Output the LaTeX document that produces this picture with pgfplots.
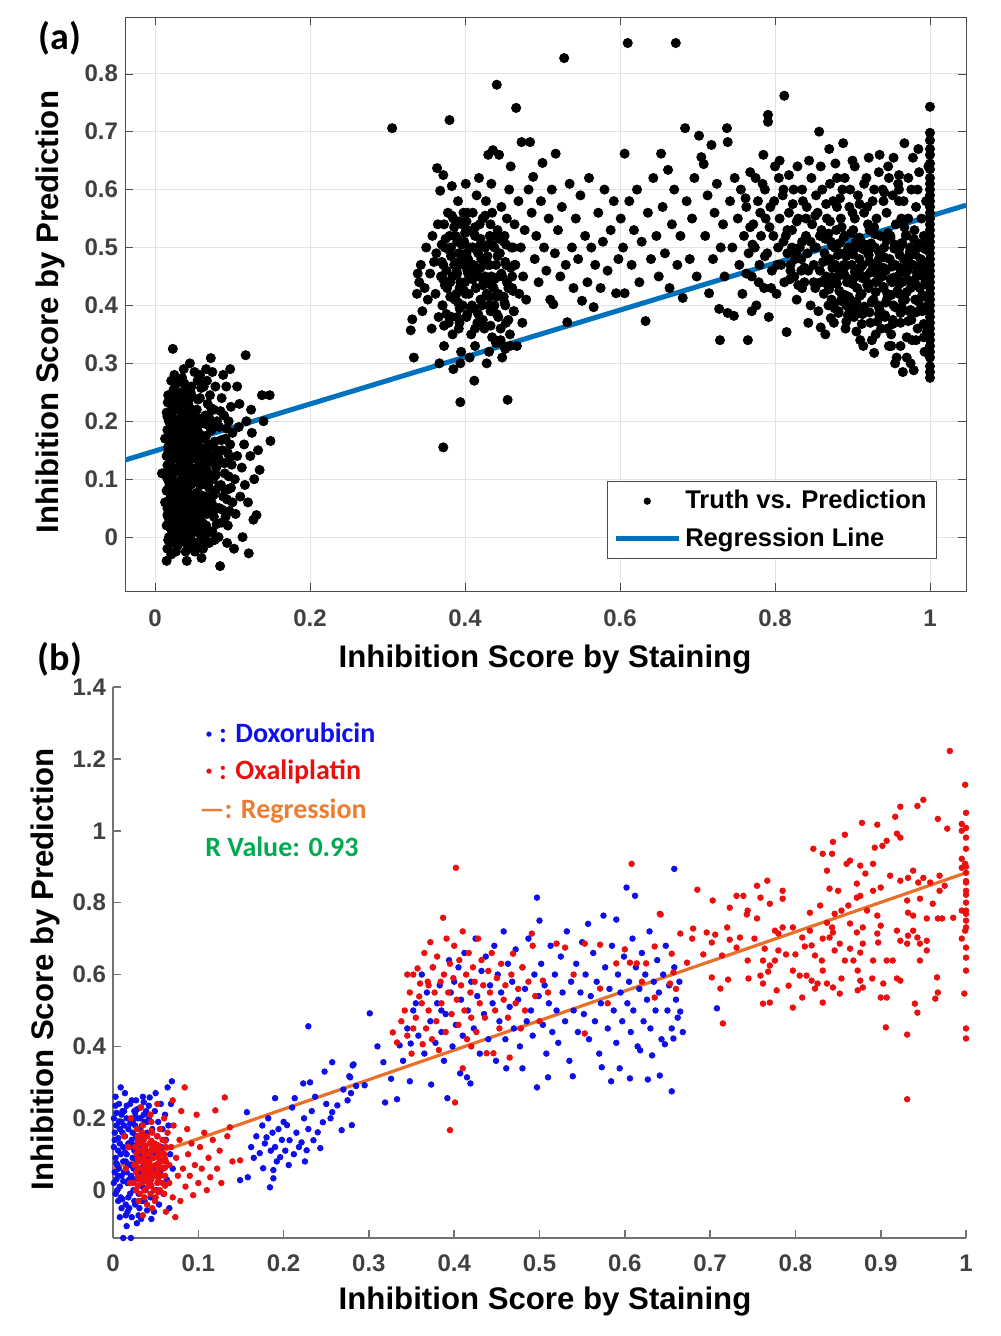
\documentclass[border=0pt]{standalone}
\usepackage{pgfplots}
\pgfplotsset{compat=1.18}
\usepackage{fontspec}
\setmainfont{Liberation Sans}
\newfontfamily\calibri{Carlito}
\definecolor{mblue}{RGB}{0,114,189}
\definecolor{dblue}{RGB}{15,15,235}
\definecolor{dred}{RGB}{235,15,15}
\definecolor{regorange}{RGB}{232,112,40}
\definecolor{txtorange}{RGB}{237,125,49}
\definecolor{rgreen}{RGB}{0,170,80}
\definecolor{tickgray}{RGB}{64,64,64}
\pgfplotsset{
  dotlegend/.style={legend image code/.code={\draw[mark repeat=2,mark phase=2,##1,mark size=1.6pt] plot coordinates {(0pt,0pt) (15.75pt,0pt) (31.5pt,0pt)};}},
  linelegend/.style={legend image code/.code={\draw[##1] (0pt,0pt) -- (31.5pt,0pt);}},
}
\begin{document}
\begin{tikzpicture}
\useasboundingbox (0,0) rectangle (500pt,668pt);
% ---------------- panel (a) ----------------
\begin{axis}[
  at={(62.5pt,372.5pt)}, anchor=south west, scale only axis,
  width=420.5pt, height=287pt,
  xmin=-0.0387, xmax=1.0465, ymin=-0.093, ymax=0.898,
  xtick={0,0.2,0.4,0.6,0.8,1}, ytick={0,0.1,0.2,0.3,0.4,0.5,0.6,0.7,0.8},
  tick align=inside, tick pos=both, xticklabel pos=lower, yticklabel pos=left,
  major tick length=4pt,
  grid=major, grid style={gray!22},
  axis line style={black!70}, tick style={black!70},
  /pgf/number format/assume math mode=true,
  tick label style={font=\fontsize{12}{14}\selectfont\bfseries, text=tickgray},
  xticklabel style={yshift=-6pt},
  legend style={at={(0.9655,0.1916)}, anchor=north east, draw=black!70, fill=white,
    font=\fontsize{12.8}{15}\selectfont\bfseries, inner xsep=3pt, inner ysep=2.5pt,
    row sep=4pt, nodes={inner ysep=2pt}},
  legend cell align=left,
]
\addplot[only marks, mark=*, mark size=2.3pt, color=black, dotlegend]
coordinates {
(0.015,-0.041)(0.016,-0.02)(0.018,0.0)(0.015,0.02)(0.017,0.035)(0.016,0.05)(0.019,0.065)(0.015,0.08)(0.018,0.095)(0.016,0.11)(0.02,0.125)(0.015,0.14)(0.017,0.155)(0.019,0.17)(0.016,0.185)(0.018,0.2)(0.015,0.215)(0.021,0.23)(0.017,0.245)(0.023,0.325)(0.022,0.01)(0.024,0.045)(0.023,0.075)(0.022,0.105)(0.024,0.135)(0.023,0.165)(0.022,0.195)(0.025,0.225)(0.024,0.255)(0.021,0.27)(0.012,0.11)(0.013,0.06)(0.013,0.17)(0.024,-0.01)(0.021,-0.03)(0.025,0.28)(0.02,0.05)(0.02,0.15)(0.021,0.09)(0.019,0.21)(0.009,0.11)
(0.027,-0.025)(0.029,0.0)(0.031,0.02)(0.028,0.04)(0.033,0.055)(0.03,0.07)(0.027,0.085)(0.034,0.1)(0.029,0.115)(0.032,0.13)(0.028,0.145)(0.035,0.16)(0.03,0.175)(0.027,0.19)(0.033,0.205)(0.029,0.22)(0.031,0.235)(0.034,0.25)(0.028,0.265)(0.036,0.01)(0.038,0.03)(0.037,0.06)(0.039,0.08)(0.036,0.11)(0.038,0.125)(0.037,0.15)(0.04,0.17)(0.036,0.19)(0.039,0.21)(0.038,0.24)(0.035,0.275)(0.032,-0.005)(0.04,-0.01)(0.026,0.005)(0.03,0.095)(0.034,0.185)(0.026,0.155)(0.031,0.06)(0.036,0.045)(0.04,0.135)(0.04,0.1)(0.033,0.23)(0.038,0.265)(0.027,0.2)(0.037,0.29)
(0.041,-0.041)(0.043,-0.02)(0.045,0.0)(0.042,0.02)(0.048,0.035)(0.044,0.05)(0.047,0.065)(0.042,0.08)(0.05,0.095)(0.045,0.11)(0.043,0.125)(0.049,0.14)(0.046,0.155)(0.042,0.17)(0.05,0.185)(0.044,0.2)(0.048,0.215)(0.043,0.23)(0.046,0.25)(0.045,0.3)(0.052,-0.01)(0.055,0.015)(0.053,0.04)(0.057,0.06)(0.054,0.075)(0.058,0.09)(0.052,0.105)(0.056,0.12)(0.053,0.135)(0.059,0.15)(0.055,0.165)(0.052,0.18)(0.057,0.2)(0.054,0.22)(0.058,0.24)(0.055,0.27)(0.051,0.285)(0.06,-0.036)(0.06,0.01)(0.06,0.11)(0.047,0.26)(0.051,0.055)(0.056,0.205)(0.049,0.16)(0.058,0.28)
(0.062,-0.02)(0.064,0.0)(0.066,0.02)(0.063,0.04)(0.068,0.055)(0.065,0.07)(0.07,0.085)(0.063,0.1)(0.067,0.115)(0.072,0.13)(0.064,0.145)(0.069,0.16)(0.066,0.175)(0.071,0.19)(0.065,0.21)(0.068,0.23)(0.072,0.309)(0.063,0.26)(0.074,0.01)(0.076,0.035)(0.073,0.06)(0.078,0.08)(0.075,0.1)(0.079,0.12)(0.074,0.14)(0.077,0.165)(0.073,0.185)(0.08,0.2)(0.076,0.22)(0.071,0.245)(0.078,0.26)(0.074,0.285)(0.067,0.27)(0.07,-0.01)(0.08,0.05)(0.08,0.15)(0.061,0.125)(0.069,0.095)(0.077,-0.005)(0.066,0.29)
(0.084,-0.05)(0.082,0.0)(0.086,0.025)(0.083,0.05)(0.088,0.07)(0.085,0.09)(0.09,0.11)(0.084,0.13)(0.087,0.15)(0.091,0.17)(0.083,0.19)(0.089,0.21)(0.086,0.24)(0.092,0.26)(0.094,0.02)(0.096,0.045)(0.093,0.065)(0.098,0.085)(0.095,0.105)(0.099,0.125)(0.094,0.145)(0.097,0.16)(0.1,0.18)(0.095,0.2)(0.098,0.225)(0.093,-0.01)(0.1,0.06)(0.088,0.28)(0.097,0.29)(0.091,0.035)
(0.103,0.1)(0.106,0.14)(0.104,0.04)(0.108,0.19)(0.11,0.07)(0.112,0.12)(0.109,0.23)(0.115,0.16)(0.117,0.314)(0.113,0.0)(0.116,0.09)(0.118,0.2)(0.121,-0.028)(0.12,0.06)(0.123,0.14)(0.125,0.18)(0.127,0.03)(0.128,0.1)(0.131,0.038)(0.133,0.15)(0.135,0.116)(0.138,0.245)(0.148,0.245)(0.149,0.166)(0.14,0.2)(0.106,0.26)(0.102,-0.02)(0.124,0.22)
(0.0185,0.0275)(0.0195,0.0875)(0.0175,0.1475)(0.0215,0.2075)(0.0225,0.0575)(0.0265,0.1175)(0.0255,0.1775)(0.0285,0.0125)(0.0315,0.0825)(0.0305,0.1425)(0.0325,0.2025)(0.0335,0.0425)(0.0355,0.1225)(0.0365,0.1675)(0.0375,0.0175)(0.0395,0.0925)(0.0385,0.1925)(0.0415,0.0525)(0.0425,0.1125)(0.0435,0.1825)(0.0445,-0.0075)(0.0465,0.0725)(0.0475,0.1375)(0.0455,0.2175)(0.0495,0.0175)(0.0505,0.1175)(0.0515,0.1975)(0.0535,0.0625)(0.0545,0.1475)(0.0565,0.0325)(0.0575,0.1075)(0.0555,0.2375)(0.0595,0.0725)(0.0605,0.1725)(0.0625,0.0225)(0.0635,0.1175)(0.0645,0.1975)(0.0655,0.0475)(0.0675,0.1375)(0.0685,0.0075)(0.0695,0.2075)(0.0705,0.1075)(0.0725,0.0425)(0.0735,0.1575)(0.0755,0.0725)(0.0765,0.1975)(0.0785,0.1075)(0.0795,0.0225)(0.0815,0.1375)(0.0825,0.0875)(0.0855,0.1675)(0.0865,0.0475)(0.0895,0.1275)(0.0905,0.0825)(0.0925,0.1875)(0.0945,0.0825)(0.0965,0.1375)(0.0155,0.1025)(0.0165,0.2325)(0.0275,0.2375)(0.0345,0.2175)(0.0195,0.0)(0.0285,-0.0125)(0.0395,-0.025)(0.0515,-0.025)(0.0635,-0.005)(0.0725,0.2225)(0.0845,0.2175)(0.0595,0.2575)(0.0405,0.2575)
(0.017,-0.005)(0.019,0.017)(0.016,0.038)(0.018,0.061)(0.017,0.083)(0.019,0.102)(0.016,0.124)(0.018,0.146)(0.017,0.168)(0.019,0.187)(0.016,0.208)
(0.023,0.006)(0.025,0.027)(0.022,0.049)(0.024,0.07)(0.023,0.092)(0.025,0.113)(0.022,0.135)(0.024,0.157)(0.023,0.178)(0.025,0.2)(0.022,0.221)(0.024,0.243)
(0.029,-0.015)(0.031,0.008)(0.028,0.03)(0.03,0.051)(0.029,0.072)(0.031,0.094)(0.028,0.116)(0.03,0.138)(0.029,0.159)(0.031,0.181)(0.028,0.203)(0.03,0.225)
(0.035,0.002)(0.037,0.024)(0.034,0.045)(0.036,0.067)(0.035,0.088)(0.037,0.11)(0.034,0.131)(0.036,0.153)(0.035,0.175)(0.037,0.196)(0.034,0.218)(0.036,0.24)
(0.041,-0.008)(0.043,0.014)(0.04,0.036)(0.042,0.057)(0.041,0.079)(0.043,0.1)(0.04,0.122)(0.042,0.144)(0.041,0.165)(0.043,0.187)(0.04,0.209)(0.042,0.23)
(0.047,0.005)(0.049,0.026)(0.046,0.048)(0.048,0.069)(0.047,0.091)(0.049,0.113)(0.046,0.134)(0.048,0.156)(0.047,0.177)(0.049,0.199)(0.046,0.221)(0.048,0.242)
(0.053,-0.012)(0.055,0.011)(0.052,0.032)(0.054,0.054)(0.053,0.076)(0.055,0.097)(0.052,0.119)(0.054,0.141)(0.053,0.162)(0.055,0.184)(0.052,0.206)
(0.059,0.003)(0.061,0.025)(0.058,0.046)(0.06,0.068)(0.059,0.09)(0.061,0.111)(0.058,0.133)(0.06,0.154)(0.059,0.176)(0.061,0.197)
(0.065,0.012)(0.067,0.04)(0.064,0.066)(0.066,0.09)(0.065,0.118)(0.067,0.145)(0.064,0.17)(0.066,0.195)
(0.332,0.376)(0.33,0.357)(0.334,0.31)(0.338,0.42)(0.341,0.44)(0.345,0.39)(0.343,0.47)(0.348,0.43)(0.35,0.5)(0.352,0.41)(0.355,0.455)(0.357,0.36)(0.358,0.52)(0.36,0.475)(0.339,0.455)
(0.362,0.42)(0.364,0.637)(0.368,0.598)(0.372,0.625)(0.363,0.49)(0.366,0.38)(0.369,0.45)(0.365,0.54)(0.371,0.4)(0.374,0.5)(0.373,0.33)(0.376,0.46)(0.378,0.56)(0.372,0.155)(0.377,0.43)(0.379,0.37)(0.375,0.515)(0.38,0.72)(0.367,0.3)(0.37,0.475)
(0.381,0.44)(0.383,0.606)(0.382,0.5)(0.384,0.35)(0.386,0.47)(0.385,0.55)(0.387,0.41)(0.388,0.52)(0.39,0.38)(0.389,0.46)(0.391,0.58)(0.393,0.43)(0.392,0.49)(0.394,0.233)(0.395,0.32)(0.396,0.54)(0.397,0.4)(0.398,0.47)(0.399,0.51)(0.385,0.29)(0.392,0.36)(0.4,0.44)(0.398,0.56)(0.389,0.42)(0.394,0.3)
(0.401,0.61)(0.402,0.38)(0.404,0.48)(0.403,0.53)(0.405,0.42)(0.407,0.45)(0.406,0.5)(0.408,0.35)(0.41,0.56)(0.409,0.4)(0.411,0.47)(0.413,0.52)(0.412,0.27)(0.414,0.43)(0.415,0.59)(0.416,0.37)(0.417,0.49)(0.418,0.45)(0.419,0.54)(0.42,0.41)(0.406,0.31)(0.413,0.33)(0.418,0.62)(0.403,0.46)(0.41,0.5)
(0.421,0.48)(0.422,0.4)(0.423,0.55)(0.424,0.44)(0.426,0.5)(0.425,0.36)(0.427,0.58)(0.428,0.42)(0.43,0.66)(0.429,0.47)(0.431,0.32)(0.432,0.52)(0.433,0.39)(0.434,0.45)(0.436,0.668)(0.435,0.56)(0.437,0.43)(0.438,0.5)(0.439,0.34)(0.44,0.47)(0.441,0.781)(0.428,0.3)(0.434,0.61)(0.426,0.45)(0.438,0.4)
(0.442,0.53)(0.443,0.42)(0.445,0.49)(0.446,0.36)(0.447,0.57)(0.448,0.45)(0.45,0.33)(0.451,0.52)(0.452,0.4)(0.453,0.47)(0.455,0.237)(0.454,0.55)(0.456,0.43)(0.457,0.6)(0.458,0.35)(0.46,0.5)(0.461,0.45)(0.463,0.39)(0.464,0.54)(0.466,0.741)(0.465,0.47)(0.467,0.33)(0.469,0.58)(0.47,0.42)(0.472,0.5)(0.474,0.37)(0.475,0.45)(0.477,0.53)(0.479,0.41)(0.448,0.31)(0.459,0.64)(0.444,0.66)(0.306,0.706)
(0.372,0.445)(0.376,0.385)(0.38,0.495)(0.383,0.415)(0.386,0.535)(0.39,0.455)(0.393,0.395)(0.396,0.505)(0.399,0.425)(0.402,0.545)(0.405,0.475)(0.408,0.395)(0.411,0.525)(0.414,0.455)(0.417,0.385)(0.42,0.505)(0.423,0.435)(0.426,0.555)(0.429,0.485)(0.432,0.415)(0.435,0.505)(0.438,0.445)(0.441,0.385)(0.444,0.515)(0.447,0.455)(0.45,0.415)(0.453,0.505)(0.456,0.375)(0.459,0.465)(0.462,0.425)(0.44,0.335)(0.452,0.325)(0.446,0.34)(0.458,0.33)(0.435,0.345)(0.4,0.485)(0.41,0.445)(0.42,0.465)(0.43,0.44)(0.39,0.515)
(0.373,0.365)(0.371,0.4)(0.374,0.435)(0.372,0.47)(0.37,0.505)(0.373,0.54)(0.383,0.38)(0.381,0.415)(0.384,0.45)(0.382,0.485)(0.38,0.52)(0.383,0.555)(0.393,0.37)(0.391,0.405)(0.394,0.44)(0.392,0.475)(0.39,0.51)(0.393,0.545)(0.403,0.385)(0.401,0.42)(0.404,0.455)(0.402,0.49)(0.4,0.525)(0.403,0.56)(0.413,0.36)(0.411,0.395)(0.414,0.43)(0.412,0.465)(0.41,0.5)(0.413,0.535)(0.423,0.375)(0.421,0.41)(0.424,0.445)(0.422,0.48)(0.42,0.515)(0.423,0.55)(0.433,0.365)(0.431,0.4)(0.434,0.435)(0.432,0.47)(0.43,0.505)(0.433,0.54)(0.443,0.38)(0.441,0.415)(0.444,0.45)(0.442,0.485)(0.44,0.52)(0.453,0.37)(0.451,0.405)(0.454,0.44)(0.452,0.475)(0.45,0.51)(0.463,0.39)(0.461,0.43)(0.464,0.47)(0.462,0.5)
(0.473,0.682)(0.484,0.682)(0.517,0.662)(0.5,0.646)(0.488,0.622)(0.482,0.6)(0.486,0.56)(0.49,0.48)(0.492,0.52)(0.495,0.44)(0.498,0.58)(0.502,0.5)(0.505,0.46)(0.508,0.55)(0.51,0.41)(0.514,0.402)(0.512,0.6)(0.516,0.49)(0.52,0.53)(0.523,0.45)(0.525,0.57)(0.528,0.827)(0.53,0.47)(0.532,0.371)(0.535,0.61)(0.538,0.5)(0.54,0.43)(0.543,0.55)(0.546,0.48)(0.551,0.408)(0.549,0.59)(0.555,0.52)(0.558,0.44)(0.56,0.62)(0.563,0.5)(0.566,0.397)(0.568,0.47)(0.572,0.56)(0.575,0.43)(0.578,0.51)(0.58,0.6)(0.584,0.46)(0.588,0.53)(0.592,0.58)(0.595,0.421)(0.598,0.48)(0.601,0.55)(0.604,0.5)(0.606,0.421)(0.606,0.662)(0.61,0.853)(0.612,0.58)(0.615,0.47)(0.618,0.53)(0.622,0.6)(0.625,0.44)(0.628,0.51)(0.633,0.373)(0.636,0.56)(0.64,0.48)(0.643,0.62)(0.647,0.52)(0.65,0.45)(0.653,0.662)(0.655,0.57)(0.658,0.49)(0.662,0.634)(0.664,0.43)(0.667,0.54)(0.67,0.6)(0.672,0.853)(0.674,0.47)(0.678,0.52)(0.681,0.413)(0.684,0.706)(0.686,0.58)(0.69,0.48)(0.693,0.55)(0.696,0.62)(0.699,0.45)(0.702,0.693)(0.705,0.656)(0.708,0.644)(0.71,0.52)(0.713,0.59)(0.715,0.421)(0.718,0.677)(0.72,0.48)(0.722,0.56)(0.725,0.61)(0.728,0.394)(0.729,0.34)(0.73,0.5)(0.733,0.54)(0.735,0.45)(0.738,0.706)(0.739,0.682)(0.739,0.387)(0.742,0.58)(0.745,0.5)(0.747,0.382)(0.748,0.62)
(0.752,0.55)(0.754,0.47)(0.756,0.6)(0.758,0.42)(0.76,0.52)(0.763,0.57)(0.765,0.34)(0.766,0.49)(0.768,0.63)(0.77,0.45)(0.772,0.54)(0.774,0.5)(0.776,0.4)(0.778,0.58)(0.78,0.47)(0.782,0.52)(0.784,0.61)(0.786,0.43)(0.788,0.55)(0.79,0.49)(0.791,0.729)(0.791,0.717)(0.792,0.38)(0.794,0.57)(0.796,0.46)(0.798,0.52)(0.8,0.64)(0.802,0.42)(0.804,0.5)(0.806,0.55)(0.808,0.47)(0.81,0.59)(0.812,0.762)(0.812,0.44)(0.814,0.52)(0.815,0.354)(0.816,0.49)(0.818,0.56)(0.82,0.46)(0.822,0.53)(0.824,0.6)(0.826,0.48)(0.828,0.41)(0.83,0.55)(0.832,0.5)(0.834,0.46)(0.836,0.58)(0.838,0.44)(0.84,0.52)(0.842,0.49)(0.844,0.65)(0.846,0.4)(0.848,0.54)(0.85,0.47)(0.835,0.51)(0.825,0.45)(0.805,0.62)(0.785,0.66)(0.77,0.39)(0.843,0.37)
(0.852,0.43)(0.853,0.5)(0.855,0.56)(0.856,0.39)(0.858,0.46)(0.859,0.362)(0.86,0.53)(0.861,0.6)(0.863,0.42)(0.864,0.49)(0.866,0.45)(0.867,0.55)(0.869,0.4)(0.87,0.67)(0.871,0.48)(0.872,0.51)(0.874,0.44)(0.875,0.58)(0.876,0.37)(0.878,0.47)(0.879,0.53)(0.88,0.62)(0.865,0.35)(0.857,0.7)(0.873,0.41)(0.877,0.5)
(0.881,0.45)(0.882,0.39)(0.884,0.49)(0.885,0.55)(0.886,0.42)(0.887,0.6)(0.889,0.47)(0.89,0.52)(0.891,0.36)(0.893,0.44)(0.894,0.383)(0.895,0.5)(0.896,0.57)(0.897,0.41)(0.899,0.47)(0.9,0.65)(0.901,0.53)(0.902,0.38)(0.904,0.45)(0.905,0.5)(0.906,0.43)(0.907,0.59)(0.909,0.48)(0.91,0.34)(0.888,0.68)(0.892,0.4)(0.898,0.44)(0.903,0.55)(0.908,0.46)
(0.911,0.51)(0.912,0.42)(0.913,0.47)(0.915,0.56)(0.916,0.39)(0.917,0.45)(0.918,0.62)(0.92,0.49)(0.921,0.43)(0.922,0.53)(0.923,0.37)(0.925,0.46)(0.926,0.58)(0.927,0.41)(0.928,0.318)(0.929,0.5)(0.93,0.44)(0.931,0.55)(0.933,0.4)(0.934,0.48)(0.935,0.66)(0.936,0.52)(0.937,0.36)(0.938,0.45)(0.939,0.6)(0.94,0.43)(0.914,0.33)(0.919,0.57)(0.924,0.5)(0.932,0.47)
(0.941,0.5)(0.942,0.38)(0.943,0.46)(0.944,0.56)(0.945,0.42)(0.946,0.64)(0.948,0.48)(0.949,0.52)(0.95,0.35)(0.951,0.44)(0.952,0.59)(0.953,0.4)(0.955,0.47)(0.956,0.54)(0.957,0.31)(0.958,0.45)(0.959,0.61)(0.96,0.42)(0.961,0.5)(0.962,0.37)(0.963,0.55)(0.964,0.44)(0.965,0.285)(0.966,0.48)(0.967,0.68)(0.968,0.41)(0.969,0.52)(0.947,0.33)(0.954,0.5)(0.96,0.58)
(0.971,0.46)(0.972,0.55)(0.973,0.39)(0.974,0.5)(0.975,0.43)(0.976,0.6)(0.977,0.34)(0.978,0.47)(0.979,0.288)(0.98,0.53)(0.981,0.41)(0.982,0.57)(0.983,0.45)(0.984,0.36)(0.985,0.5)(0.986,0.63)(0.987,0.43)(0.988,0.48)(0.989,0.55)(0.99,0.39)(0.991,0.46)(0.992,0.52)(0.993,0.32)(0.994,0.44)(0.995,0.58)(0.975,0.3)(0.985,0.67)
(0.862,0.475)(0.865,0.515)(0.868,0.435)(0.871,0.545)(0.874,0.465)(0.877,0.395)(0.88,0.505)(0.883,0.425)(0.886,0.535)(0.889,0.455)(0.892,0.485)(0.895,0.415)(0.898,0.525)(0.901,0.445)(0.904,0.395)(0.907,0.515)(0.91,0.465)(0.913,0.385)(0.916,0.505)(0.919,0.435)(0.922,0.475)(0.925,0.405)(0.928,0.535)(0.931,0.455)(0.934,0.385)(0.937,0.495)(0.94,0.465)(0.943,0.405)(0.946,0.525)(0.949,0.445)(0.952,0.375)(0.955,0.505)(0.958,0.425)(0.961,0.465)(0.964,0.395)(0.967,0.535)(0.97,0.445)(0.973,0.485)(0.976,0.375)(0.979,0.515)(0.982,0.435)(0.985,0.465)(0.988,0.395)(0.991,0.505)(0.994,0.415)(0.997,0.475)(0.996,0.355)(0.992,0.345)(0.97,0.345)(0.95,0.33)(0.93,0.35)(0.96,0.6)(0.94,0.58)(0.92,0.54)(0.9,0.56)(0.88,0.57)(0.816,0.53)(0.822,0.5)(0.828,0.545)(0.834,0.48)(0.84,0.55)(0.846,0.51)(0.852,0.555)(0.858,0.52)(0.82,0.47)(0.83,0.435)(0.838,0.465)(0.85,0.44)(0.998,0.64)(0.998,0.5)(0.998,0.4)
(0.872,0.378)(0.875,0.402)(0.87,0.428)(0.873,0.449)(0.871,0.476)(0.874,0.503)(0.869,0.524)(0.882,0.387)(0.885,0.408)(0.88,0.437)(0.883,0.459)(0.881,0.487)(0.884,0.508)(0.892,0.372)(0.895,0.397)(0.89,0.418)(0.893,0.447)(0.891,0.468)(0.894,0.497)(0.889,0.518)(0.902,0.388)(0.905,0.407)(0.9,0.437)(0.903,0.458)(0.901,0.488)(0.904,0.508)(0.912,0.368)(0.915,0.398)(0.91,0.417)(0.913,0.447)(0.911,0.467)(0.914,0.497)(0.909,0.517)(0.922,0.388)(0.925,0.407)(0.92,0.438)(0.923,0.457)(0.921,0.487)(0.924,0.507)(0.932,0.372)(0.935,0.393)(0.93,0.423)(0.933,0.443)(0.931,0.472)(0.934,0.493)(0.929,0.523)(0.942,0.383)(0.945,0.413)(0.94,0.432)(0.943,0.462)(0.941,0.483)(0.944,0.512)(0.952,0.368)(0.955,0.397)(0.95,0.418)(0.953,0.448)(0.951,0.467)(0.954,0.498)(0.949,0.517)(0.962,0.387)(0.965,0.408)(0.96,0.437)(0.963,0.458)(0.961,0.487)(0.964,0.508)(0.972,0.373)(0.975,0.392)(0.97,0.423)(0.973,0.443)(0.971,0.473)(0.974,0.492)(0.969,0.522)(0.982,0.388)(0.985,0.407)(0.98,0.438)(0.983,0.457)(0.981,0.488)(0.984,0.507)(0.992,0.368)(0.995,0.398)(0.99,0.418)(0.993,0.448)(0.991,0.468)(0.994,0.497)
(0.762,0.585)(0.768,0.535)(0.775,0.62)(0.781,0.56)(0.787,0.6)(0.793,0.535)(0.799,0.58)(0.806,0.65)(0.811,0.6)(0.818,0.625)(0.823,0.575)(0.829,0.64)(0.835,0.6)(0.841,0.57)(0.847,0.62)(0.853,0.59)(0.859,0.64)(0.866,0.575)(0.871,0.61)(0.878,0.645)(0.884,0.585)(0.89,0.62)(0.897,0.6)(0.903,0.64)(0.909,0.575)(0.915,0.61)(0.921,0.655)(0.928,0.6)(0.934,0.63)(0.941,0.595)(0.947,0.62)(0.953,0.655)(0.96,0.625)(0.966,0.58)(0.972,0.62)(0.978,0.655)(0.984,0.6)
(0.905,0.355)(0.925,0.34)(0.945,0.36)(0.962,0.33)(0.982,0.34)(0.955,0.3)(0.97,0.31)(0.763,0.455)(0.771,0.505)(0.779,0.44)(0.787,0.485)(0.795,0.43)(0.803,0.47)(0.811,0.51)(0.819,0.445)(0.827,0.49)(0.835,0.43)(0.843,0.46)(0.851,0.5)(0.859,0.44)
(1,0.743)(1,0.698)(1,0.685)(1,0.67)(1,0.66)(1,0.645)(1,0.635)(1,0.62)(1,0.61)(1,0.6)(1,0.59)(1,0.58)(1,0.57)(1,0.56)(1,0.55)(1,0.54)(1,0.53)(1,0.52)(1,0.51)(1,0.5)(1,0.49)(1,0.48)(1,0.47)(1,0.46)(1,0.45)(1,0.44)(1,0.43)(1,0.42)(1,0.41)(1,0.4)(1,0.39)(1,0.38)(1,0.37)(1,0.36)(1,0.35)(1,0.34)(1,0.33)(1,0.32)(1,0.31)(1,0.295)(1,0.285)(1,0.275)
};
\addlegendentry{Truth vs. Prediction}
\addplot[line width=2.5pt, color=mblue, linelegend]
coordinates {(-0.0387,0.133) (1.0465,0.573)};
\addlegendentry{Regression Line}
\end{axis}
% ---------------- panel (b) ----------------
\begin{axis}[
  at={(56.5pt,49pt)}, anchor=south west, scale only axis,
  width=426.5pt, height=275.5pt,
  xmin=0, xmax=1, ymin=-0.133, ymax=1.4,
  axis x line*=bottom, axis y line*=left,
  xtick={0,0.1,0.2,0.3,0.4,0.5,0.6,0.7,0.8,0.9,1},
  ytick={0,0.2,0.4,0.6,0.8,1,1.2,1.4},
  tick align=inside, major tick length=4pt,
  axis line style={black!55, line width=0.8pt}, tick style={black!55, line width=0.8pt},
  /pgf/number format/assume math mode=true,
  tick label style={font=\fontsize{12}{14}\selectfont\bfseries, text=tickgray},
  xticklabel style={yshift=-5pt},
]
\addplot[only marks, mark=*, mark size=1.4pt, color=dblue] coordinates {
(0.001,0.2)(0.002,0.16)(0.001,0.12)(0.003,0.09)(0.002,0.05)(0.001,0.02)(0.003,-0.01)(0.002,0.14)(0.004,0.03)(0.005,0.07)(0.006,0.11)(0.004,0.18)(0.006,-0.03)(0.008,0.01)(0.007,0.06)(0.009,0.286)(0.008,0.13)(0.01,0.04)(0.009,0.1)(0.011,0.16)(0.01,-0.05)(0.012,0.08)(0.011,0.22)(0.012,-0.133)(0.007,0.24)(0.005,0.0)(0.01,0.19)(0.003,0.26)(0.012,0.12)(0.009,-0.02)
(0.013,0.05)(0.014,0.15)(0.015,-0.04)(0.016,0.1)(0.016,0.2)(0.017,0.02)(0.018,0.07)(0.018,0.17)(0.016,-0.1)(0.019,0.12)(0.02,0.24)(0.02,-0.01)(0.021,0.04)(0.021,-0.133)(0.022,0.14)(0.022,0.25)(0.022,-0.075)(0.023,0.09)(0.023,0.19)(0.024,0.0)(0.024,0.06)(0.025,0.11)(0.025,0.22)(0.014,0.27)(0.017,-0.06)(0.019,0.03)(0.013,0.18)(0.015,0.08)(0.018,-0.02)(0.023,0.16)(0.025,-0.03)(0.02,0.13)(0.021,0.07)(0.024,0.2)(0.016,0.05)
(0.026,-0.04)(0.027,0.03)(0.027,0.15)(0.028,-0.092)(0.028,0.08)(0.029,0.2)(0.03,0.12)(0.03,-0.01)(0.031,0.05)(0.032,0.17)(0.032,0.23)(0.033,-0.08)(0.033,0.1)(0.034,0.01)(0.035,0.14)(0.035,0.26)(0.036,0.07)(0.037,-0.03)(0.037,0.19)(0.038,0.11)(0.039,0.04)(0.039,0.22)(0.04,-0.056)(0.04,0.16)(0.029,0.12)(0.034,0.18)(0.031,-0.05)(0.036,0.21)(0.038,0.0)(0.027,0.25)
(0.041,0.09)(0.042,0.2)(0.043,0.258)(0.043,0.02)(0.044,-0.02)(0.045,0.13)(0.046,0.17)(0.047,0.06)(0.048,-0.06)(0.049,0.22)(0.05,0.1)(0.051,0.0)(0.052,0.15)(0.053,0.19)(0.054,-0.04)(0.055,0.05)(0.056,0.24)(0.057,0.12)(0.058,0.17)(0.059,-0.01)(0.06,0.08)(0.061,0.21)(0.062,0.14)(0.063,0.03)(0.064,0.286)(0.065,0.18)(0.066,-0.05)(0.067,0.1)(0.069,0.303)(0.068,0.24)(0.07,0.06)(0.045,-0.08)(0.05,0.27)
(0.004,0.215)(0.006,0.145)(0.004,0.075)(0.006,0.04)(0.008,0.17)(0.01,0.21)(0.012,0.025)(0.014,0.105)(0.016,0.235)(0.018,0.13)(0.02,0.185)(0.022,0.035)(0.024,0.125)(0.026,0.18)(0.028,0.225)(0.03,-0.07)(0.032,0.2)(0.034,-0.03)(0.036,0.245)(0.038,0.215)(0.04,0.19)(0.015,-0.07)(0.008,-0.075)(0.019,-0.05)(0.011,-0.025)(0.003,0.235)(0.013,0.22)(0.042,0.235)(0.026,0.215)(0.007,0.19)
(0.149,0.028)(0.157,0.217)(0.158,0.036)(0.162,0.12)(0.165,0.09)(0.168,0.15)(0.172,0.103)(0.175,0.18)(0.176,0.061)(0.178,0.13)(0.18,0.147)(0.182,0.2)(0.184,0.008)(0.185,0.11)(0.187,0.16)(0.188,0.056)(0.188,0.033)(0.19,0.256)(0.19,0.12)(0.192,0.08)(0.194,0.17)(0.196,0.092)(0.198,0.14)(0.2,0.19)(0.202,0.11)(0.204,0.181)(0.206,0.07)(0.207,0.139)(0.21,0.23)(0.212,0.1)(0.213,0.256)(0.215,0.16)(0.218,0.12)(0.221,0.133)(0.223,0.297)(0.224,0.2)(0.225,0.08)(0.227,0.111)(0.229,0.17)(0.231,0.3)(0.233,0.22)(0.235,0.139)(0.237,0.26)(0.24,0.161)(0.243,0.117)(0.229,0.456)(0.246,0.189)(0.248,0.33)(0.25,0.24)(0.255,0.2)(0.257,0.217)(0.257,0.356)(0.263,0.236)(0.268,0.167)(0.27,0.28)(0.275,0.25)(0.278,0.314)(0.28,0.181)(0.281,0.347)(0.285,0.29)(0.295,0.292)
(0.301,0.492)(0.317,0.356)(0.319,0.244)(0.333,0.253)(0.336,0.403)(0.349,0.408)(0.348,0.303)(0.345,0.45)(0.34,0.36)(0.326,0.31)(0.282,0.35)(0.277,0.317)(0.279,0.27)(0.31,0.4)(0.352,0.5)
(0.355,0.52)(0.358,0.43)(0.362,0.6)(0.365,0.38)(0.368,0.55)(0.372,0.47)(0.373,0.294)(0.375,0.62)(0.378,0.41)(0.38,0.52)(0.383,0.57)(0.385,0.44)(0.388,0.36)(0.39,0.49)(0.392,0.256)(0.394,0.64)(0.396,0.55)(0.398,0.4)(0.4,0.58)(0.385,0.5)
(0.402,0.46)(0.405,0.62)(0.407,0.325)(0.408,0.53)(0.41,0.43)(0.412,0.66)(0.415,0.314)(0.416,0.5)(0.419,0.297)(0.42,0.58)(0.423,0.45)(0.425,0.7)(0.427,0.54)(0.43,0.38)(0.432,0.61)(0.435,0.49)(0.437,0.65)(0.44,0.42)(0.442,0.57)(0.445,0.52)(0.447,0.68)(0.449,0.36)
(0.451,0.6)(0.453,0.47)(0.455,0.55)(0.458,0.72)(0.46,0.42)(0.461,0.339)(0.463,0.63)(0.465,0.51)(0.468,0.58)(0.47,0.45)(0.472,0.67)(0.475,0.53)(0.477,0.4)(0.48,0.339)(0.48,0.62)(0.483,0.56)(0.485,0.47)(0.487,0.7)(0.49,0.5)(0.492,0.43)(0.494,0.6)(0.497,0.814)(0.497,0.286)(0.5,0.75)(0.499,0.54)
(0.502,0.63)(0.504,0.46)(0.506,0.57)(0.508,0.38)(0.51,0.314)(0.511,0.52)(0.513,0.68)(0.515,0.44)(0.518,0.6)(0.52,0.5)(0.522,0.41)(0.525,0.65)(0.527,0.55)(0.53,0.47)(0.532,0.72)(0.535,0.36)(0.537,0.58)(0.539,0.317)(0.54,0.5)(0.543,0.63)(0.545,0.44)(0.548,0.55)(0.55,0.69)
(0.552,0.49)(0.554,0.6)(0.557,0.741)(0.558,0.42)(0.56,0.54)(0.563,0.66)(0.565,0.47)(0.567,0.58)(0.57,0.38)(0.572,0.52)(0.573,0.342)(0.575,0.764)(0.577,0.62)(0.58,0.45)(0.582,0.56)(0.584,0.303)(0.585,0.68)(0.587,0.5)(0.59,0.753)(0.59,0.41)(0.592,0.6)(0.594,0.339)(0.595,0.55)(0.597,0.47)(0.599,0.65)
(0.602,0.842)(0.603,0.52)(0.605,0.58)(0.606,0.311)(0.607,0.44)(0.609,0.7)(0.61,0.5)(0.612,0.819)(0.613,0.62)(0.615,0.4)(0.617,0.56)(0.618,0.389)(0.62,0.66)(0.622,0.47)(0.624,0.6)(0.626,0.53)(0.627,0.308)(0.629,0.72)(0.63,0.45)(0.632,0.375)(0.634,0.58)(0.636,0.5)(0.638,0.64)(0.64,0.55)(0.641,0.319)(0.643,0.42)(0.645,0.6)(0.647,0.406)(0.648,0.68)(0.65,0.5)(0.652,0.57)(0.655,0.275)(0.655,0.45)(0.657,0.422)(0.658,0.894)(0.658,0.62)(0.66,0.53)(0.662,0.48)(0.665,0.497)(0.664,0.58)(0.668,0.44)(0.708,0.506)
};
\addplot[only marks, mark=*, mark size=1.4pt, color=dred] coordinates {
(0.024,0.02)(0.025,0.07)(0.026,0.12)(0.027,0.0)(0.027,0.05)(0.028,0.1)(0.029,0.15)(0.03,0.03)(0.03,0.08)(0.031,0.13)(0.032,-0.01)(0.032,0.06)(0.033,0.11)(0.034,0.16)(0.034,0.02)(0.035,0.04)(0.036,0.09)(0.036,0.14)(0.037,0.0)(0.038,0.06)(0.038,0.12)(0.039,0.03)(0.04,0.08)(0.04,0.15)(0.041,0.01)(0.042,0.05)(0.042,0.1)(0.043,0.13)(0.044,-0.01)(0.044,0.07)(0.045,0.03)(0.046,0.11)(0.046,0.16)(0.047,0.05)(0.048,0.09)(0.048,0.0)(0.049,0.13)(0.05,0.04)(0.05,0.07)(0.051,0.11)(0.052,0.02)(0.052,0.15)(0.053,0.06)(0.054,0.09)(0.055,0.0)(0.055,0.12)(0.056,0.04)(0.057,0.08)(0.058,0.14)(0.058,0.02)(0.059,0.06)(0.06,0.1)(0.06,-0.01)(0.061,0.04)(0.062,0.12)(0.062,0.08)(0.035,0.18)(0.045,0.19)(0.055,0.17)(0.03,-0.03)(0.04,-0.04)(0.05,-0.02)(0.028,0.17)(0.033,0.035)(0.043,0.025)(0.053,0.035)(0.037,0.105)(0.047,0.125)(0.057,0.105)(0.041,0.065)
(0.029,0.0125)(0.029,0.0375)(0.029,0.0625)(0.029,0.0875)(0.029,0.1125)(0.029,0.1375)(0.037,0.025)(0.037,0.05)(0.037,0.075)(0.037,0.1)(0.037,0.125)(0.037,0.15)(0.037,-0.02)(0.045,0.0125)(0.045,0.0375)(0.045,0.0625)(0.045,0.0875)(0.045,0.1125)(0.045,0.1375)(0.045,0.165)(0.053,0.025)(0.053,0.05)(0.053,0.075)(0.053,0.1)(0.053,0.125)(0.053,-0.005)(0.061,0.0125)(0.061,0.0625)(0.061,0.0875)(0.061,0.1375)(0.033,0.0875)(0.041,0.0375)(0.049,0.1125)(0.057,0.0625)(0.033,0.155)(0.049,-0.03)
(0.015,0.06)(0.018,0.12)(0.02,0.02)(0.013,0.15)(0.021,0.2)(0.033,0.23)(0.044,0.21)(0.052,0.24)(0.06,0.2)(0.064,0.16)(0.066,0.07)(0.066,0.02)(0.068,0.12)(0.07,-0.02)(0.071,0.18)(0.073,-0.075)(0.074,0.09)(0.076,0.04)(0.078,0.14)(0.079,-0.03)(0.08,0.22)(0.082,0.06)(0.084,0.286)(0.085,0.01)(0.087,0.17)(0.088,0.1)(0.09,0.04)(0.092,0.13)(0.094,-0.014)(0.096,0.07)(0.098,0.21)(0.1,0.02)(0.102,0.12)(0.104,0.06)(0.107,0.16)(0.11,0.0)(0.112,0.09)(0.114,0.036)(0.117,0.14)(0.12,0.222)(0.122,0.06)(0.125,0.11)(0.127,0.02)(0.131,0.258)(0.134,0.15)(0.137,0.175)(0.14,0.08)(0.149,0.083)(0.062,-0.06)(0.035,-0.07)(0.046,-0.05)(0.07,0.25)
(0.328,0.439)(0.333,0.411)(0.338,0.47)(0.342,0.5)(0.345,0.43)(0.348,0.55)(0.35,0.38)(0.352,0.6)(0.355,0.48)(0.357,0.617)(0.359,0.539)(0.36,0.575)(0.362,0.52)(0.363,0.406)(0.365,0.66)(0.367,0.45)(0.369,0.58)(0.37,0.5)(0.372,0.69)(0.374,0.42)(0.375,0.62)(0.377,0.55)(0.379,0.47)(0.38,0.65)(0.382,0.39)(0.384,0.58)(0.385,0.52)(0.387,0.758)(0.388,0.6)(0.39,0.44)(0.391,0.7)(0.393,0.55)(0.395,0.167)(0.395,0.63)(0.397,0.49)(0.399,0.59)(0.4,0.68)(0.401,0.244)(0.402,0.897)(0.403,0.53)(0.405,0.46)(0.406,0.64)(0.408,0.57)(0.41,0.339)(0.41,0.72)(0.412,0.5)(0.414,0.6)(0.415,0.42)(0.417,0.66)(0.419,0.55)(0.42,0.48)(0.422,0.62)(0.424,0.58)(0.426,0.44)(0.428,0.7)(0.43,0.52)(0.432,0.64)(0.434,0.57)(0.436,0.48)(0.438,0.381)(0.44,0.61)(0.442,0.55)(0.444,0.66)(0.446,0.381)(0.448,0.5)(0.45,0.59)(0.453,0.45)(0.455,0.63)(0.458,0.53)(0.46,0.57)(0.463,0.48)(0.465,0.369)(0.467,0.6)(0.469,0.658)(0.472,0.52)(0.475,0.56)(0.478,0.45)(0.48,0.62)(0.483,0.5)(0.487,0.58)(0.491,0.714)(0.492,0.68)(0.495,0.54)(0.5,0.47)(0.504,0.583)(0.52,0.686)(0.53,0.675)(0.345,0.6)(0.37,0.57)(0.352,0.45)(0.42,0.4)
(0.553,0.686)(0.553,0.436)(0.571,0.683)(0.571,0.561)(0.59,0.631)(0.606,0.633)(0.614,0.631)(0.625,0.631)(0.635,0.678)(0.635,0.536)(0.641,0.769)(0.653,0.575)(0.655,0.658)(0.657,0.606)(0.665,0.714)(0.673,0.633)(0.608,0.908)(0.642,0.767)(0.54,0.6)(0.58,0.52)(0.62,0.58)(0.6,0.67)(0.66,0.56)(0.51,0.55)
(0.679,0.7)(0.68,0.728)(0.685,0.836)(0.692,0.656)(0.696,0.717)(0.702,0.689)(0.702,0.592)(0.703,0.806)(0.706,0.711)(0.712,0.561)(0.714,0.653)(0.715,0.464)(0.72,0.731)(0.721,0.586)(0.723,0.786)(0.723,0.697)(0.731,0.819)(0.731,0.675)(0.735,0.703)(0.739,0.819)(0.743,0.767)(0.744,0.778)(0.744,0.639)(0.745,0.589)(0.752,0.7)(0.755,0.847)(0.755,0.756)(0.759,0.814)(0.759,0.597)(0.762,0.639)(0.762,0.575)(0.762,0.519)(0.764,0.672)(0.767,0.861)(0.768,0.608)(0.77,0.797)(0.77,0.625)(0.77,0.522)(0.776,0.722)(0.776,0.639)(0.778,0.556)(0.78,0.714)(0.78,0.667)(0.785,0.833)(0.785,0.811)(0.785,0.731)(0.789,0.656)(0.792,0.569)(0.797,0.731)(0.797,0.611)(0.797,0.508)(0.8,0.656)(0.805,0.597)(0.808,0.703)(0.808,0.536)(0.811,0.678)(0.813,0.597)(0.817,0.772)(0.817,0.722)(0.819,0.681)(0.819,0.583)(0.821,0.95)(0.823,0.653)(0.823,0.561)(0.826,0.575)(0.829,0.792)(0.831,0.639)(0.832,0.936)(0.832,0.7)(0.832,0.611)(0.832,0.522)(0.837,0.889)(0.837,0.744)(0.837,0.575)(0.84,0.839)(0.84,0.703)(0.843,0.936)(0.843,0.731)(0.844,0.969)(0.844,0.717)(0.844,0.564)(0.846,0.769)(0.846,0.667)(0.85,0.833)(0.852,0.686)(0.852,0.547)(0.854,0.778)(0.854,0.589)(0.858,0.989)(0.858,0.639)(0.86,0.908)(0.862,0.792)(0.864,0.917)(0.864,0.742)(0.864,0.672)(0.868,0.639)(0.872,0.853)(0.872,0.814)(0.872,0.717)(0.873,0.611)(0.873,0.556)(0.876,0.903)(0.876,0.819)(0.876,0.661)(0.876,0.583)(0.878,1.022)(0.879,0.731)(0.879,0.686)(0.879,0.564)(0.882,0.881)(0.884,0.778)(0.89,0.589)(0.891,0.908)(0.891,0.833)(0.891,0.639)(0.893,0.953)(0.896,1.017)(0.896,0.764)(0.896,0.714)(0.897,0.689)(0.9,0.842)(0.9,0.736)(0.9,0.536)(0.902,0.958)(0.903,0.575)(0.906,0.453)(0.907,0.972)(0.907,0.639)(0.907,0.536)(0.911,0.875)(0.914,0.639)(0.917,1.039)(0.919,0.992)(0.919,0.722)(0.919,0.589)(0.923,1.067)(0.923,0.981)(0.923,0.861)(0.923,0.694)(0.923,0.583)(0.931,0.806)(0.931,0.686)(0.931,0.433)(0.931,0.253)(0.932,0.869)(0.932,0.772)(0.932,0.708)(0.938,0.889)(0.938,0.764)(0.938,0.722)(0.94,0.519)(0.943,1.069)(0.943,0.703)(0.943,0.494)(0.944,0.856)(0.946,0.811)(0.946,0.686)(0.946,0.639)(0.95,1.086)(0.95,0.869)(0.954,0.756)(0.954,0.694)(0.954,0.667)(0.958,0.856)(0.961,0.797)(0.964,0.533)(0.966,0.592)(0.967,1.033)(0.967,0.756)(0.967,0.55)(0.969,0.875)(0.969,0.833)(0.972,0.756)(0.975,0.847)(0.978,1.006)(0.981,1.222)(0.985,0.758)(0.995,1.019)(0.995,1.0)(0.995,0.897)(0.995,0.778)(0.995,0.7)(0.995,0.922)(0.998,0.547)(0.999,1.128)(0.999,0.908)(0.999,0.722)(1,1.05)(1,1.008)(1,0.981)(1,0.9)(1,0.883)(1,0.856)(1,0.833)(1,0.822)(1,0.778)(1,0.769)(1,0.731)(1,0.675)(1,0.647)(1,0.611)(1,0.45)(1,0.422)(1,0.95)(1,0.86)(1,0.8)(1,0.75)
};
\addplot[line width=1.6pt, color=regorange] coordinates {(0,0.061) (1,0.883)};
\end{axis}
% ---------------- labels ----------------
\node[font=\fontsize{15.6}{18}\selectfont\bfseries] at (272.5pt,338pt) {Inhibition Score by Staining};
\node[font=\fontsize{15.6}{18}\selectfont\bfseries, rotate=90] at (25pt,512pt) {Inhibition Score by Prediction};
\node[font=\fontsize{15.6}{18}\selectfont\bfseries] at (272.5pt,17pt) {Inhibition Score by Staining};
\node[font=\fontsize{15.6}{18}\selectfont\bfseries, rotate=90] at (22.5pt,183.5pt) {Inhibition Score by Prediction};
\node[font=\calibri\fontsize{19}{22}\selectfont\bfseries] at (30pt,649pt) {(a)};
\node[font=\calibri\fontsize{19}{22}\selectfont\bfseries] at (30pt,338.5pt) {(b)};
\node[anchor=base west, inner sep=0pt, font=\calibri\fontsize{14}{16}\selectfont\bfseries, text=dblue] at (102.5pt,296.5pt) {· : Doxorubicin};
\node[anchor=base west, inner sep=0pt, font=\calibri\fontsize{14}{16}\selectfont\bfseries, text=dred] at (102.5pt,278pt) {· : Oxaliplatin};
\node[anchor=base west, inner sep=0pt, font=\calibri\fontsize{14}{16}\selectfont\bfseries, text=txtorange] at (99.5pt,258.5pt) {—: Regression};
\node[anchor=base west, inner sep=0pt, font=\calibri\fontsize{14}{16}\selectfont\bfseries, text=rgreen] at (102.5pt,239.5pt) {R Value: 0.93};
\end{tikzpicture}
\end{document}
